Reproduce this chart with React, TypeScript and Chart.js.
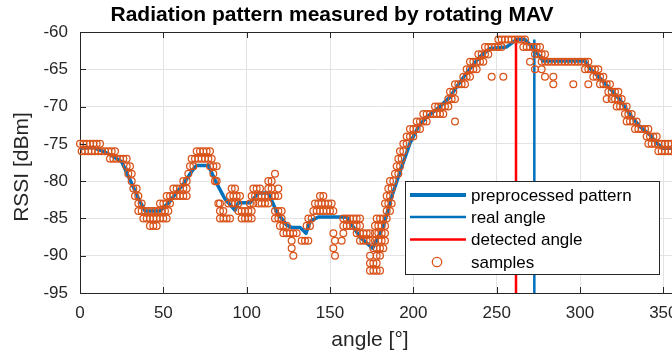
import React, { useEffect, useRef } from "react";
import { Chart, registerables } from "chart.js";

Chart.register(...registerables);

const FONT = "'Liberation Sans', Arial, Helvetica, sans-serif";

const xTickValues = [0, 50, 100, 150, 200, 250, 300, 350];
const yTickValues = [-95, -90, -85, -80, -75, -70, -65, -60];

const patternAngle = [0, 8, 14, 20, 25, 30, 35, 39, 48, 54, 58, 62, 67, 70, 77, 82, 87, 93, 95, 102, 107, 113, 118, 124, 127, 132, 135.6, 138, 143, 160, 168, 175.6, 182, 187, 193, 198, 203, 208, 216, 222, 228, 234, 240, 246, 256, 262, 267, 272, 278, 303, 306, 312, 318, 324, 330, 336, 342, 346, 350, 360];
const patternRssi = [-75.6, -75.5, -76.0, -76.7, -77.4, -79.8, -82.3, -84.0, -84.0, -82.7, -81.5, -80.4, -78.7, -77.9, -77.9, -80.3, -82.4, -83.9, -82.9, -82.9, -81.6, -81.6, -84.1, -85.9, -86.2, -86.2, -87.0, -85.4, -84.8, -84.8, -87.5, -89.0, -86.1, -82.1, -78.1, -74.9, -72.7, -71.4, -70.0, -68.7, -66.7, -64.9, -63.3, -62.2, -62.0, -61.0, -61.0, -62.2, -63.9, -63.9, -64.9, -66.2, -67.6, -69.1, -71.1, -72.7, -73.8, -74.9, -75.6, -75.6];

const realAngle = 272.6;
const detectedAngle = 261.6;
const markerTop = -61;
const markerBottom = -95;

const samples: [number, number][] = [
  [0, -75], [2, -75], [4, -75], [6, -75], [8, -75], [10, -75], [12, -75],
  [1, -76], [3, -76], [5, -76], [7, -76], [9, -76], [11, -76], [13, -76], [15, -76], [17, -76], [19, -76], [21, -76],
  [18, -77], [20, -77], [22, -77], [24, -77], [26, -77], [28, -77],
  [28, -78], [30, -78], [29, -79], [31, -79], [31, -80], [32, -81], [34, -81], [33, -82], [35, -82], [35, -83], [37, -83],
  [35, -84], [37, -84], [39, -84], [41, -84], [43, -84], [45, -84], [47, -84], [49, -84], [51, -84], [53, -84],
  [38, -85], [40, -85], [42, -85], [44, -85], [46, -85], [48, -85], [50, -85], [52, -85],
  [42, -86], [44, -86], [46, -86],
  [48, -83], [50, -83], [52, -83], [54, -83],
  [52, -82], [54, -82], [56, -82], [58, -82], [60, -82], [62, -82], [64, -82],
  [56, -81], [58, -81], [60, -81], [62, -81], [64, -81],
  [62, -80], [64, -80], [65, -79], [66, -78], [68, -78],
  [67, -77], [69, -77], [71, -77], [73, -77], [75, -77], [77, -77], [79, -77],
  [70, -76], [72, -76], [74, -76], [76, -76], [78, -76],
  [78, -78], [80, -78], [82, -78], [80, -79], [81, -80], [82, -80],
  [83, -83], [84, -83], [84, -84], [86, -84], [84, -85], [86, -85], [88, -85], [90, -85],
  [89, -83], [91, -83], [93, -83], [95, -83],
  [90, -82], [92, -82], [94, -82], [96, -82],
  [91, -81], [93, -81],
  [95, -84], [97, -84], [99, -84], [101, -84], [103, -84],
  [97, -85], [99, -85], [101, -85], [103, -85],
  [102, -83], [104, -83],
  [103, -82], [105, -82], [107, -82], [109, -82], [111, -82], [113, -82], [115, -82], [117, -82], [119, -82],
  [104, -81], [106, -81], [108, -81], [113, -81], [115, -81], [119, -81],
  [107, -83], [109, -83], [111, -83], [113, -83],
  [113, -80], [115, -80], [117, -79],
  [117, -84], [119, -84], [121, -84], [117, -85], [119, -85], [121, -85],
  [120, -86], [122, -86], [124, -86],
  [122, -87], [124, -87], [126, -87], [128, -87], [130, -87],
  [127, -88], [127, -89], [128, -90],
  [133, -88], [135, -88], [137, -88],
  [136, -86], [138, -86], [137, -85], [139, -85],
  [140, -84], [142, -84], [144, -84], [146, -84], [148, -84], [150, -84], [152, -84],
  [141, -83], [143, -83], [145, -83], [147, -83], [149, -83], [151, -83],
  [144, -82], [146, -82],
  [152, -87], [158, -87], [153, -88], [157, -88], [152, -89], [153, -90],
  [158, -85], [160, -85], [162, -85], [164, -85], [166, -85], [168, -85],
  [158, -86], [160, -86], [162, -86], [164, -86], [166, -86], [168, -86],
  [166, -87], [168, -87], [170, -87], [172, -87], [174, -87],
  [168, -88], [170, -88], [172, -88], [174, -88],
  [174, -90], [174, -91], [176, -91], [174, -92], [176, -92], [178, -92], [180, -92],
  [178, -91], [178, -90], [180, -90],
  [176, -89], [178, -89], [180, -89], [182, -89],
  [177, -88], [179, -88], [181, -88], [183, -88],
  [177, -87], [179, -87], [181, -87], [183, -87],
  [177, -86], [179, -86], [181, -86], [183, -86],
  [178, -85], [180, -85], [182, -85], [184, -85],
  [184, -84], [186, -84], [183, -83], [185, -83], [187, -83], [184, -82], [186, -82], [185, -81], [187, -81], [186, -80], [188, -80],
  [189, -79], [191, -79], [190, -78], [192, -78], [191, -77], [193, -77], [192, -76], [194, -76], [194, -75], [196, -75],
  [196, -74], [198, -74], [200, -74],
  [198, -73], [200, -73], [202, -73], [204, -73],
  [202, -72], [204, -72], [206, -72], [208, -72],
  [206, -71], [208, -71], [210, -71], [212, -71], [214, -71], [216, -71], [218, -71],
  [213, -70], [215, -70], [217, -70], [219, -70], [221, -70],
  [225, -72],
  [221, -69], [223, -69], [225, -69],
  [222, -68], [224, -68],
  [225, -67], [227, -67], [229, -67], [231, -67],
  [230, -66], [232, -66], [234, -66],
  [232, -65], [234, -65], [236, -65], [238, -65],
  [234, -64], [236, -64], [238, -64], [240, -64], [242, -64],
  [239, -63], [241, -63], [243, -63], [245, -63],
  [243, -62], [245, -62], [247, -62], [249, -62], [251, -62], [253, -62],
  [247, -66], [254, -66],
  [251, -61], [253, -61], [255, -61], [257, -61], [259, -61], [261, -61], [263, -61], [265, -61], [267, -61],
  [266, -62], [268, -62], [270, -62], [272, -62], [274, -62], [276, -62],
  [273, -63], [275, -63], [277, -63], [279, -63],
  [277, -64], [279, -64], [281, -64], [283, -64], [285, -64], [287, -64], [289, -64], [291, -64], [293, -64], [295, -64], [297, -64], [299, -64], [301, -64], [303, -64], [305, -64],
  [270, -64], [273, -65], [277, -65], [279, -66], [284, -66], [284, -67], [296, -67], [305, -67],
  [303, -65], [305, -65], [307, -65], [309, -65], [311, -65],
  [308, -66], [310, -66], [312, -66], [314, -66],
  [312, -67], [314, -67], [316, -67], [318, -67],
  [317, -68], [319, -68], [321, -68], [323, -68],
  [316, -69], [319, -69], [321, -69], [323, -69], [325, -69],
  [322, -70], [324, -70], [326, -70], [328, -70],
  [327, -71], [329, -71], [331, -71],
  [328, -72], [330, -72], [332, -72], [334, -72],
  [333, -73], [335, -73], [337, -73], [339, -73], [341, -73],
  [340, -74], [342, -74], [344, -74], [346, -74],
  [341, -75], [343, -75], [345, -75], [347, -75], [349, -75], [351, -75], [353, -75], [355, -75], [357, -75], [359, -75],
  [347, -76], [349, -76], [351, -76], [353, -76], [355, -76], [357, -76], [359, -76],
];

const titleText = "Radiation pattern measured by rotating MAV";
const xTitle = "angle [°]";
const yTitle = "RSSI [dBm]";
const legendLabels = ["preprocessed pattern", "real angle", "detected angle", "samples"];

const BLUE = "#0072BD";
const ORANGE = "#D95319";
const RED = "#FF0000";
const AXIS = "#262626";

const decorations = {
  id: "decorations",
  afterDraw(chart: any) {
    const { ctx, chartArea } = chart;
    const { left, right, top, bottom } = chartArea;
    const xs = chart.scales.x;
    const ys = chart.scales.y;
    ctx.save();
    ctx.strokeStyle = AXIS;
    ctx.lineWidth = 1;
    ctx.beginPath();
    ctx.moveTo(left, top + 0.5);
    ctx.lineTo(right, top + 0.5);
    ctx.moveTo(right - 0.5, top);
    ctx.lineTo(right - 0.5, bottom);
    ctx.stroke();
    ctx.beginPath();
    const tl = 6;
    xTickValues.forEach((v) => {
      const px = Math.round(xs.getPixelForValue(v)) + 0.5;
      ctx.moveTo(px, bottom);
      ctx.lineTo(px, bottom - tl);
      ctx.moveTo(px, top);
      ctx.lineTo(px, top + tl);
    });
    yTickValues.forEach((v) => {
      const py = Math.round(ys.getPixelForValue(v)) + 0.5;
      ctx.moveTo(left, py);
      ctx.lineTo(left + tl, py);
      ctx.moveTo(right, py);
      ctx.lineTo(right - tl, py);
    });
    ctx.stroke();

    ctx.fillStyle = "#000";
    ctx.font = `bold 21px ${FONT}`;
    ctx.textAlign = "center";
    ctx.textBaseline = "middle";
    ctx.fillText(titleText, 332, 15);

    ctx.fillStyle = AXIS;
    ctx.font = `21px ${FONT}`;
    ctx.fillText(xTitle, 370, 340);
    ctx.save();
    ctx.translate(22, 167);
    ctx.rotate(-Math.PI / 2);
    ctx.fillText(yTitle, 0, 0);
    ctx.restore();

    const bx = 405.5, by = 181.5, bw = 254, bh = 93;
    ctx.fillStyle = "#fff";
    ctx.fillRect(bx, by, bw, bh);
    ctx.strokeStyle = AXIS;
    ctx.lineWidth = 1;
    ctx.strokeRect(bx, by, bw, bh);
    const rows = [195, 217, 239.5, 262];
    const styles = [
      { c: BLUE, w: 4 },
      { c: BLUE, w: 2.5 },
      { c: RED, w: 2.5 },
    ];
    styles.forEach((s, i) => {
      ctx.strokeStyle = s.c;
      ctx.lineWidth = s.w;
      ctx.beginPath();
      ctx.moveTo(410, rows[i]);
      ctx.lineTo(466, rows[i]);
      ctx.stroke();
    });
    ctx.strokeStyle = ORANGE;
    ctx.lineWidth = 1.3;
    ctx.beginPath();
    ctx.arc(437, rows[3], 4.7, 0, Math.PI * 2);
    ctx.stroke();
    ctx.fillStyle = "#000";
    ctx.font = `17px ${FONT}`;
    ctx.textAlign = "left";
    ctx.textBaseline = "middle";
    legendLabels.forEach((t, i) => ctx.fillText(t, 471, rows[i] + 1));
    ctx.restore();
  },
};

export default function App() {
  const ref = useRef<HTMLCanvasElement | null>(null);
  useEffect(() => {
    if (!ref.current) return;
    const chart = new Chart(ref.current, {
      type: "line",
      data: {
        datasets: [
          {
            label: "samples",
            data: samples.map(([x, y]) => ({ x, y })),
            showLine: false,
            borderColor: ORANGE,
            backgroundColor: "rgba(0,0,0,0)",
            pointRadius: 3.4,
            pointBorderWidth: 1.25,
            pointBorderColor: ORANGE,
            pointBackgroundColor: "rgba(0,0,0,0)",
            pointStyle: "circle",
            order: 0,
            clip: false,
          } as any,
          {
            label: "preprocessed pattern",
            data: patternAngle.map((x, i) => ({ x, y: patternRssi[i] })),
            borderColor: BLUE,
            borderWidth: 3.5,
            pointRadius: 0,
            borderJoinStyle: "round",
            tension: 0,
            order: 3,
          },
          {
            label: "real angle",
            data: [{ x: realAngle, y: markerTop }, { x: realAngle, y: markerBottom }],
            borderColor: BLUE,
            borderWidth: 2.5,
            pointRadius: 0,
            order: 2,
          },
          {
            label: "detected angle",
            data: [{ x: detectedAngle, y: markerTop }, { x: detectedAngle, y: markerBottom }],
            borderColor: RED,
            borderWidth: 2.5,
            pointRadius: 0,
            order: 1,
          },
        ],
      },
      options: {
        animation: false,
        responsive: false,
        devicePixelRatio: 1,
        layout: { padding: { top: 32, right: 10, left: 0, bottom: 0 } },
        plugins: {
          legend: { display: false },
          tooltip: { enabled: false },
          title: { display: false },
        },
        scales: {
          x: {
            type: "linear",
            min: 0,
            max: 360,
            afterBuildTicks: (s: any) => {
              s.ticks = xTickValues.map((v) => ({ value: v }));
            },
            ticks: {
              color: AXIS,
              font: { family: FONT, size: 17 },
              padding: 10,
              maxRotation: 0,
              autoSkip: false,
            },
            grid: { color: "#e3e3e3", drawTicks: false, lineWidth: 1 },
            border: { color: AXIS, width: 1 },
            afterFit: (s: any) => {
              s.height = 63;
            },
          },
          y: {
            type: "linear",
            min: -95,
            max: -60,
            afterBuildTicks: (s: any) => {
              s.ticks = yTickValues.map((v) => ({ value: v }));
            },
            ticks: {
              color: AXIS,
              font: { family: FONT, size: 17 },
              padding: 12,
              autoSkip: false,
            },
            grid: { color: "#e3e3e3", drawTicks: false, lineWidth: 1 },
            border: { color: AXIS, width: 1 },
            afterFit: (s: any) => {
              s.width = 80;
            },
          },
        },
      },
      plugins: [decorations],
    });
    return () => chart.destroy();
  }, []);
  return (
    <div style={{ position: "absolute", left: 0, top: 0, width: 672, height: 356, overflow: "hidden", background: "#fff" }}>
      <canvas ref={ref} width={690} height={356} style={{ display: "block", width: 690, height: 356 }} />
    </div>
  );
}
